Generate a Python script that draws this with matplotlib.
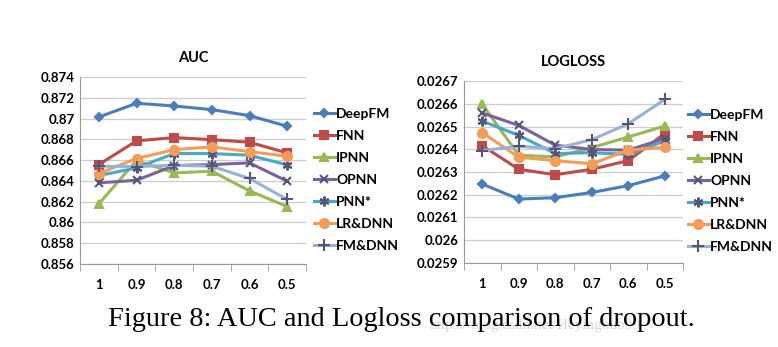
import numpy as np
import matplotlib.pyplot as plt

dropout = ['1', '0.9', '0.8', '0.7', '0.6', '0.5']
models = ['DeepFM', 'FNN', 'IPNN', 'OPNN', 'PNN*', 'LR&DNN', 'FM&DNN']

auc_deepfm = [0.87015, 0.87147, 0.87121, 0.87086, 0.87028, 0.86926]
auc_fnn = [0.86557, 0.86785, 0.86817, 0.86797, 0.86772, 0.86669]
auc_ipnn = [0.86179, 0.86596, 0.86477, 0.86493, 0.86304, 0.86153]
auc_opnn = [0.86381, 0.86406, 0.86547, 0.86557, 0.86573, 0.86397]
auc_pnns = [0.86451, 0.86525, 0.86663, 0.86663, 0.86647, 0.86554]
auc_lrdnn = [0.86471, 0.86615, 0.86701, 0.86727, 0.86682, 0.86637]
auc_fmdnn = [0.86541, 0.86538, 0.86550, 0.86541, 0.86423, 0.86221]

ll_deepfm = [0.026247, 0.026181, 0.026187, 0.026210, 0.026240, 0.026283]
ll_fnn = [0.026416, 0.026312, 0.026288, 0.026312, 0.026350, 0.026469]
ll_ipnn = [0.026597, 0.026374, 0.026366, 0.026407, 0.026454, 0.026502]
ll_opnn = [0.026559, 0.026505, 0.026418, 0.026399, 0.026396, 0.026447]
ll_pnns = [0.026524, 0.026461, 0.026381, 0.026385, 0.026377, 0.026436]
ll_lrdnn = [0.026473, 0.026365, 0.026350, 0.026336, 0.026396, 0.026409]
ll_fmdnn = [0.026394, 0.026413, 0.026403, 0.026442, 0.026512, 0.026619]

auc_all = [auc_deepfm, auc_fnn, auc_ipnn, auc_opnn, auc_pnns, auc_lrdnn, auc_fmdnn]
ll_all = [ll_deepfm, ll_fnn, ll_ipnn, ll_opnn, ll_pnns, ll_lrdnn, ll_fmdnn]

colors = ['#4A7EBB', '#BE4B48', '#98B954', '#7D60A0', '#46AAC5', '#F59D56', '#95B3D7']
markers = ['D', 's', '^', 'x', (6, 2, 0), 'o', '+']
msizes = [4.5, 6, 6, 6, 7, 6.5, 8]

plt.rcParams['font.family'] = ['Lato', 'DejaVu Sans']

fig = plt.figure(figsize=(7.78, 3.47), dpi=100)
W, H = 778, 347


def make_axes(left, top, right, bottom):
    return fig.add_axes([left / W, 1 - bottom / H, (right - left) / W, (bottom - top) / H])


def draw(ax, data, yticks, fmt, title, leg_x, leg_y, tpad):
    x = np.arange(len(dropout))
    for vals, name, c, m, ms in zip(data, models, colors, markers, msizes):
        ax.plot(x, vals, color=c, lw=2.2, marker=m, ms=ms, mew=1.5,
                mec=c if m not in ('x', '+', (6, 2, 0)) else '#555577', label=name)
    ax.set_xlim(-0.5, 5.5)
    ax.set_ylim(yticks[0], yticks[-1])
    ax.set_yticks(yticks)
    ax.set_yticklabels([fmt(v) for v in yticks], fontsize=9.5, fontweight='bold')
    ax.set_xticks(x)
    ax.set_xticklabels(dropout, fontsize=9.5, fontweight='bold')
    ax.set_xticks(np.arange(-0.5, 6, 1), minor=True)
    ax.tick_params(axis='x', which='major', length=0, pad=11)
    ax.tick_params(axis='x', which='minor', length=5, color='#999999')
    ax.tick_params(axis='y', length=0, pad=4)
    ax.grid(axis='y', color='#cccccc', lw=0.9)
    ax.set_axisbelow(True)
    for s in ['top', 'right']:
        ax.spines[s].set_visible(False)
    ax.spines['left'].set_color('#999999')
    ax.spines['bottom'].set_color('#999999')
    ax.set_title(title, fontsize=10.5, fontweight='bold', pad=tpad)
    ax.legend(loc='upper left', bbox_to_anchor=(leg_x / W, 1 - leg_y / H),
              bbox_transform=fig.transFigure, frameon=False,
              handlelength=1.5, handletextpad=0.1, labelspacing=0.72,
              borderaxespad=0, borderpad=0, prop={'weight': 'bold', 'size': 10})


ax1 = make_axes(80, 77, 306, 264)
draw(ax1, auc_all, np.round(np.arange(0.856, 0.8741, 0.002), 3),
     lambda v: ('%.3f' % v).rstrip('0'), 'AUC', 314, 108, 11)

ax2 = make_axes(464, 81, 683, 263)
draw(ax2, ll_all, np.round(np.arange(0.0259, 0.02671, 0.0001), 4),
     lambda v: ('%.4f' % v).rstrip('0'), 'LOGLOSS', 688, 109, 11)

fig.text(430 / W, 1 - 326 / H, 'https://blog.csdn.net/Heyingkub99', fontsize=11,
         color='#d8d8d8', family='Liberation Serif', va='center', ha='left')
fig.text(108 / W, 1 - 320 / H, 'Figure 8: AUC and Logloss comparison of dropout.',
         fontsize=20.4, family='Liberation Serif', va='center', ha='left')

fig.savefig('out.png', dpi=100)
